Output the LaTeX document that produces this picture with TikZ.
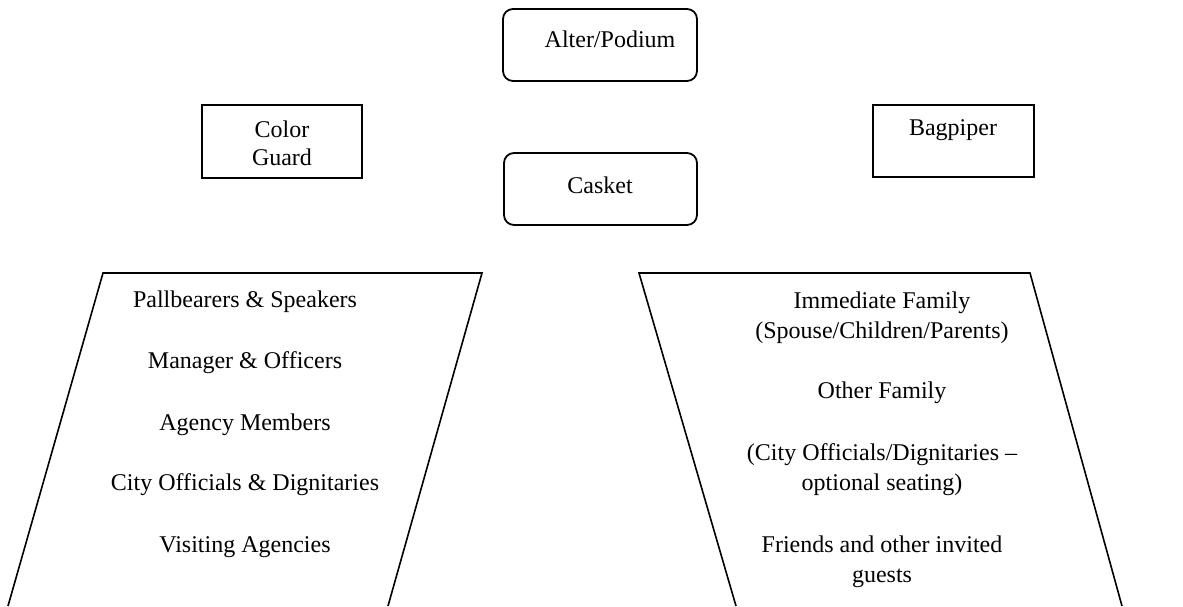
\documentclass[tikz,border=0pt]{standalone}
\usepackage{fontspec}
\setmainfont{Liberation Serif}
\begin{document}
\begin{tikzpicture}[x=0.5pt,y=-0.5pt,
  box/.style={draw,line width=0.9pt},
  rbox/.style={draw,line width=0.9pt,rounded corners=5pt},
  side/.style={draw,line width=0.8pt},
  lbl/.style={anchor=base,inner sep=0pt,font=\fontsize{12}{14}\selectfont}]
\useasboundingbox (0,0) rectangle (1183,606);
% boxes
\draw[rbox] (503,9) rectangle (697,81);
\draw[rbox] (504,153) rectangle (697,225);
\draw[box] (202,105) rectangle (362,178);
\draw[box] (873,105) rectangle (1034,177);
\node[lbl] (alter) at (610,47) {Alter/Podium};
\node[lbl] (casket) at (600,193) {Casket};
\node[lbl] (cg1) at (282,137) {Color};
\node[lbl] (cg2) at (282,165) {Guard};
\node[lbl] (bag) at (953,135) {Bagpiper};
% left seating block
\coordinate (ltl) at (103,273);
\coordinate (ltr) at (482,273);
\coordinate (lbl) at (8,606);
\coordinate (lbr) at (388,606);
\draw[side] (lbl) -- (ltl) -- (ltr) -- (lbr);
\node[lbl] (l1) at (245,307) {Pallbearers \& Speakers};
\node[lbl] (l2) at (245,368) {Manager \& Officers};
\node[lbl] (l3) at (245,430) {Agency Members};
\node[lbl] (l4) at (245,490) {City Officials \& Dignitaries};
\node[lbl] (l5) at (245,552) {Visiting Agencies};
% right seating block
\coordinate (rtl) at (639,273);
\coordinate (rtr) at (1030,273);
\coordinate (rbl) at (736,606);
\coordinate (rbr) at (1122,606);
\draw[side] (rbl) -- (rtl) -- (rtr) -- (rbr);
\node[lbl] (r1) at (882,308) {Immediate Family};
\node[lbl] (r2) at (882,338) {(Spouse/Children/Parents)};
\node[lbl] (r3) at (882,398) {Other Family};
\node[lbl] (r4) at (882,460) {(City Officials/Dignitaries –};
\node[lbl] (r5) at (882,490) {optional seating)};
\node[lbl] (r6) at (882,552) {Friends and other invited};
\node[lbl] (r7) at (882,582) {guests};
\end{tikzpicture}
\end{document}
